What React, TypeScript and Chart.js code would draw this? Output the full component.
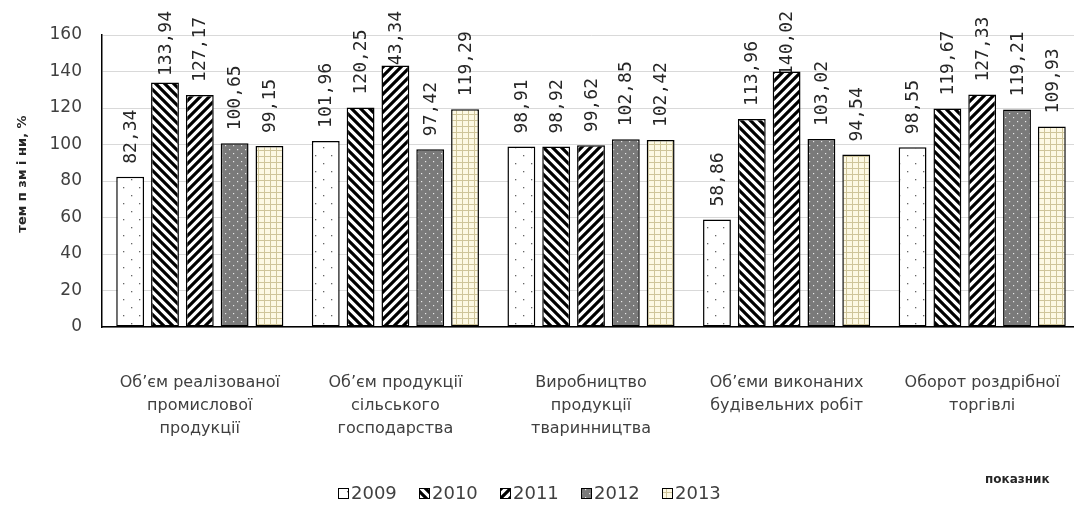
import React, { useEffect, useRef } from "react";
import { Chart, registerables } from "chart.js";

Chart.register(...registerables);

const categories: string[][] = [
  ["Об’єм реалізованої", "промислової", "продукції"],
  ["Об’єм продукції", "сільського", "господарства"],
  ["Виробництво", "продукції", "тваринництва"],
  ["Об’єми виконаних", "будівельних робіт"],
  ["Оборот роздрібної", "торгівлі"],
];
const years = ["2009", "2010", "2011", "2012", "2013"];
const values2009 = [82.34, 101.96, 98.91, 58.86, 98.55];
const values2010 = [133.94, 120.25, 98.92, 113.96, 119.67];
const values2011 = [127.17, 143.34, 99.62, 140.02, 127.33];
const values2012 = [100.65, 97.42, 102.85, 103.02, 119.21];
const values2013 = [99.15, 119.29, 102.42, 94.54, 109.93];
const yTicks = [0, 20, 40, 60, 80, 100, 120, 140, 160];
const yTitle = "тем п зм і ни, %";
const xTitle = "показник";

function makePattern(kind: number): CanvasPattern | string {
  const c = document.createElement("canvas");
  const ctx = c.getContext("2d")!;
  if (kind === 0) {
    c.width = 16; c.height = 16;
    ctx.fillStyle = "#ffffff"; ctx.fillRect(0, 0, 16, 16);
    ctx.fillStyle = "#666666";
    ctx.fillRect(3, 3, 1.3, 1.3);
    ctx.fillRect(11, 11, 1.3, 1.3);
  } else if (kind === 1 || kind === 2) {
    const s = 9;
    c.width = s; c.height = s;
    ctx.fillStyle = "#ffffff"; ctx.fillRect(0, 0, s, s);
    ctx.strokeStyle = "#000000"; ctx.lineWidth = 3.2;
    ctx.beginPath();
    if (kind === 1) {
      for (let k = -1; k <= 1; k++) { ctx.moveTo(k * s - 2, -2); ctx.lineTo(k * s + s + 2, s + 2); }
    } else {
      for (let k = -1; k <= 1; k++) { ctx.moveTo(k * s - 2, s + 2); ctx.lineTo(k * s + s + 2, -2); }
    }
    ctx.stroke();
  } else if (kind === 3) {
    c.width = 8; c.height = 8;
    ctx.fillStyle = "#7a7a7a"; ctx.fillRect(0, 0, 8, 8);
    ctx.fillStyle = "#e8e8e8";
    ctx.fillRect(1, 1, 1.2, 1.2);
    ctx.fillRect(5, 5, 1.2, 1.2);
  } else {
    c.width = 6; c.height = 6;
    ctx.fillStyle = "#fdf9e4"; ctx.fillRect(0, 0, 6, 6);
    ctx.fillStyle = "#cfc59a";
    ctx.fillRect(0, 0, 6, 1);
    ctx.fillRect(0, 0, 1, 6);
  }
  const p = ctx.createPattern(c, "repeat");
  return p || "#ffffff";
}

const fmt = (v: number) => v.toFixed(2).replace(/0$/, "").replace(".", ",");

export default function App() {
  const ref = useRef<HTMLCanvasElement>(null);
  useEffect(() => {
    document.body.style.margin = "0";
    document.body.style.overflow = "hidden";
    const patterns = [0, 1, 2, 3, 4].map(makePattern);
    const series = [values2009, values2010, values2011, values2012, values2013];

    const labelPlugin = {
      id: "labels",
      beforeDatasetsDraw(chart: any) {
        const ctx = chart.ctx;
        ctx.save();
        ctx.font = "18px 'DejaVu Sans Mono'";
        ctx.fillStyle = "#262626";
        ctx.textBaseline = "middle";
        ctx.textAlign = "left";
        chart.data.datasets.forEach((ds: any, di: number) => {
          const meta = chart.getDatasetMeta(di);
          meta.data.forEach((bar: any, i: number) => {
            const txt = fmt(ds.data[i]);
            const w = ctx.measureText(txt).width;
            let start = bar.y - 13;
            if (start - w < 11) start = 11 + w;
            ctx.save();
            ctx.translate(bar.x, start);
            ctx.rotate(-Math.PI / 2);
            ctx.fillText(txt, 0, 1);
            ctx.restore();
          });
        });
        ctx.restore();
      },
      afterDraw(chart: any) {
        const ctx = chart.ctx;
        ctx.save();
        ctx.font = "bold 13px 'DejaVu Sans'";
        ctx.fillStyle = "#262626";
        ctx.textAlign = "center";
        ctx.textBaseline = "middle";
        ctx.save();
        ctx.translate(23, 174);
        ctx.rotate(-Math.PI / 2);
        ctx.fillText(yTitle, 0, 0);
        ctx.restore();
        ctx.font = "bold 12px 'DejaVu Sans'";
        ctx.textAlign = "left";
        ctx.fillText(xTitle, 985, 480);
        ctx.font = "18px 'DejaVu Sans'";
        let x = 338;
        const y = 493;
        years.forEach((yr, i) => {
          ctx.fillStyle = patterns[i] as any;
          ctx.fillRect(x, y - 5, 10, 10);
          ctx.strokeStyle = "#000";
          ctx.lineWidth = 1;
          ctx.strokeRect(x + 0.5, y - 4.5, 10, 10);
          ctx.fillStyle = "#404040";
          ctx.fillText(yr, x + 13, y + 1);
          x += 81;
        });
        ctx.restore();
      },
    };

    const chart = new Chart(ref.current!, {
      type: "bar",
      data: {
        labels: categories,
        datasets: years.map((yr, i) => ({
          label: yr,
          data: series[i],
          backgroundColor: patterns[i] as any,
          borderColor: "#000000",
          borderWidth: 1.5,
          borderSkipped: false,
          categoryPercentage: 0.89,
          barPercentage: 0.8,
        })),
      },
      options: {
        animation: false,
        responsive: false,
        layout: { padding: { top: 35, right: 0, left: 0, bottom: 0 } },
        plugins: { legend: { display: false }, tooltip: { enabled: false } },
        scales: {
          x: {
            grid: { display: false },
            border: { color: "#000000", width: 1.5 },
            ticks: {
              color: "#404040",
              font: { family: "'DejaVu Sans'", size: 16, lineHeight: 1.45 },
              padding: 36,
              maxRotation: 0,
              autoSkip: false,
            },
            afterFit(scale: any) {
              scale.height = 179;
              scale.paddingLeft = 0;
              scale.paddingRight = 0;
            },
          },
          y: {
            min: 0,
            max: 160,
            afterBuildTicks(scale: any) { scale.ticks = yTicks.map((v) => ({ value: v })); },
            grid: { color: "#d9d9d9", drawTicks: false },
            border: { color: "#000000", width: 1.5 },
            ticks: {
              color: "#404040",
              font: { family: "'DejaVu Sans'", size: 17 },
              padding: 20,
            },
            afterFit(scale: any) { scale.width = 102; },
          },
        },
      },
      plugins: [labelPlugin],
    });
    return () => chart.destroy();
  }, []);
  return (
    <div style={{ width: 1074, height: 506, overflow: "hidden" }}>
      <canvas ref={ref} width={1080} height={506} style={{ display: "block" }} />
    </div>
  );
}
